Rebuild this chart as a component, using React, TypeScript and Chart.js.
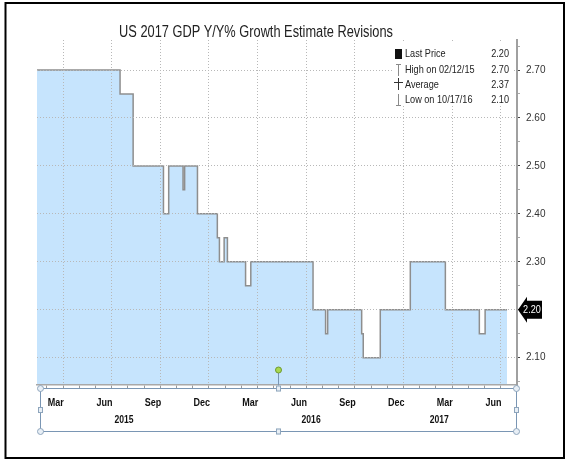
import React, { useEffect, useRef } from 'react';
import { Chart, registerables } from 'chart.js';

Chart.register(...registerables);

// ---- data ----
const titleText = 'US 2017 GDP Y/Y% Growth Estimate Revisions';
const changeDates = [
  '2015-02-12', '2015-07-17', '2015-08-11', '2015-10-07', '2015-10-17',
  '2015-11-13', '2015-11-16', '2015-12-10', '2016-01-17', '2016-01-21',
  '2016-01-30', '2016-02-05', '2016-03-09', '2016-03-19', '2016-07-14',
  '2016-08-07', '2016-08-11', '2016-10-14', '2016-10-17', '2016-11-18',
  '2017-01-14', '2017-03-19', '2017-05-22', '2017-06-02', '2017-07-13',
];
const changeValues = [
  2.70, 2.65, 2.50, 2.40, 2.50,
  2.45, 2.50, 2.40, 2.35, 2.30,
  2.35, 2.30, 2.25, 2.30, 2.20,
  2.15, 2.20, 2.15, 2.10, 2.20,
  2.30, 2.20, 2.15, 2.20, 2.20,
];
const axisStartDate = '2015-02-12';
const axisEndDate = '2017-08-01';
const yMin = 2.043;
const yMax = 2.7626;
const yTickValues = [2.05, 2.1, 2.15, 2.2, 2.25, 2.3, 2.35, 2.4, 2.45, 2.5, 2.55, 2.6, 2.65, 2.7, 2.75];
const monthTickLabels = ['Mar', 'Jun', 'Sep', 'Dec'];
const yearLabels = ['2015', '2016', '2017'];
const yearLabelMonth = [6.76, 18.3, 26.2];
const legendLabels = ['Last Price', 'High on 02/12/15', 'Average', 'Low on 10/17/16'];
const legendValues = ['2.20', '2.70', '2.37', '2.10'];
const lastPrice = 2.2;

const toM = (s: string) => {
  const [y, mo, d] = s.split('-').map(Number);
  const dim = new Date(y, mo, 0).getDate();
  return (y - 2015) * 12 + (mo - 1) + (d - 1) / dim;
};
const isMajor = (v: number) => Math.abs(v * 10 - Math.round(v * 10)) < 1e-6;

const FONT = '"Liberation Sans", Arial, sans-serif';

const drawText = (
  ctx: CanvasRenderingContext2D,
  text: string,
  x: number,
  y: number,
  align: CanvasTextAlign,
  font: string,
  sx: number,
) => {
  ctx.save();
  ctx.translate(x, y);
  ctx.scale(sx, 1);
  ctx.font = font;
  ctx.textAlign = align;
  ctx.textBaseline = 'middle';
  ctx.fillText(text, 0, 0);
  ctx.restore();
};

const overlayPlugin = {
  id: 'overlay',
  afterDraw(chart: any) {
    const ctx = chart.ctx as CanvasRenderingContext2D;
    const xs = chart.scales.x;
    const ys = chart.scales.y;
    const area = chart.chartArea;
    ctx.save();

    // legend box
    ctx.fillStyle = '#ffffff';
    ctx.fillRect(393, 41, 121, 65);
    const rowsY = [54, 69.5, 84.5, 100];
    ctx.fillStyle = '#111';
    ctx.fillRect(395, 49, 7, 10);
    ctx.strokeStyle = '#8a8a8a';
    ctx.lineWidth = 1;
    ctx.beginPath();
    ctx.moveTo(398.5, 64); ctx.lineTo(398.5, 76);
    ctx.moveTo(396, 64.5); ctx.lineTo(401, 64.5);
    ctx.moveTo(398.5, 94); ctx.lineTo(398.5, 106);
    ctx.moveTo(396, 105.5); ctx.lineTo(401, 105.5);
    ctx.stroke();
    ctx.strokeStyle = '#333';
    ctx.beginPath();
    ctx.moveTo(394, 82.5); ctx.lineTo(403, 82.5);
    ctx.moveTo(398.5, 78); ctx.lineTo(398.5, 90);
    ctx.stroke();
    ctx.fillStyle = '#222';
    legendLabels.forEach((t, i) => {
      drawText(ctx, t, 405, rowsY[i], 'left', `11px ${FONT}`, 0.83);
      drawText(ctx, legendValues[i], 509, rowsY[i], 'right', `11px ${FONT}`, 0.83);
    });

    // title
    ctx.fillStyle = '#222';
    drawText(ctx, titleText, 256, 33, 'center', `16px ${FONT}`, 0.8);

    // x labels
    ctx.fillStyle = '#111';
    let q = 0;
    for (let k = 2; k <= 29; k += 3) {
      drawText(ctx, monthTickLabels[q % 4], xs.getPixelForValue(k + 0.55), 403, 'center', `bold 11px ${FONT}`, 0.82);
      q++;
    }
    yearLabels.forEach((t, i) => {
      drawText(ctx, t, xs.getPixelForValue(yearLabelMonth[i]), 420, 'center', `bold 11px ${FONT}`, 0.78);
    });

    // selection box
    const bx1 = 40, bx2 = 516, by1 = 388, by2 = 431;
    const mx = (bx1 + bx2) / 2, my = (by1 + by2) / 2;
    ctx.strokeStyle = '#7a96b4';
    ctx.lineWidth = 1;
    ctx.strokeRect(bx1 + 0.5, by1 + 0.5, bx2 - bx1, by2 - by1);
    ctx.beginPath();
    ctx.moveTo(mx + 0.5, 373); ctx.lineTo(mx + 0.5, by1);
    ctx.stroke();
    ctx.fillStyle = '#a8d850';
    ctx.strokeStyle = '#6f9a30';
    ctx.beginPath();
    ctx.arc(mx + 0.5, 370, 3, 0, Math.PI * 2);
    ctx.fill(); ctx.stroke();
    ctx.fillStyle = '#e8eff6';
    ctx.strokeStyle = '#8ea5bc';
    [[bx1, by1], [bx2, by1], [bx1, by2], [bx2, by2]].forEach(([cx, cy]) => {
      ctx.beginPath();
      ctx.arc(cx + 0.5, cy + 0.5, 3, 0, Math.PI * 2);
      ctx.fill(); ctx.stroke();
    });
    [[mx, by1], [mx, by2], [bx1, my], [bx2, my]].forEach(([cx, cy]) => {
      ctx.fillRect(cx - 2, cy - 2.5, 5, 6);
      ctx.strokeRect(cx - 2 + 0.5, cy - 2.5 + 0.5, 4, 5);
    });

    // last price tag
    const ty = ys.getPixelForValue(lastPrice);
    const tx = area.right + 1;
    ctx.fillStyle = '#000';
    ctx.beginPath();
    ctx.moveTo(tx, ty);
    ctx.lineTo(tx + 9, ty - 13);
    ctx.lineTo(tx + 9, ty - 9);
    ctx.lineTo(tx + 24, ty - 9);
    ctx.lineTo(tx + 24, ty + 9);
    ctx.lineTo(tx + 9, ty + 9);
    ctx.lineTo(tx + 9, ty + 13);
    ctx.closePath();
    ctx.fill();
    ctx.fillStyle = '#fff';
    drawText(ctx, lastPrice.toFixed(2), tx + 14, ty + 0.5, 'center', `11px ${FONT}`, 0.83);

    // outer frame
    ctx.strokeStyle = '#000';
    ctx.lineWidth = 2;
    ctx.strokeRect(5.5, 3, 558.5, 455);
    ctx.restore();
  },
};

export default function App() {
  const ref = useRef<HTMLCanvasElement | null>(null);
  useEffect(() => {
    document.body.style.margin = '0';
    const points = changeDates.map((d, i) => ({ x: toM(d), y: changeValues[i] }));
    const monthTicks: number[] = [];
    for (let k = 2; k <= 30; k++) monthTicks.push(k);
    const chart = new Chart(ref.current as HTMLCanvasElement, {
      type: 'line',
      data: {
        datasets: [
          {
            data: points,
            stepped: true,
            borderColor: '#8e8e8e',
            borderWidth: 1.5,
            backgroundColor: 'rgb(198,228,253)',
            fill: 'start',
            pointRadius: 0,
          } as any,
        ],
      },
      options: {
        responsive: false,
        animation: false,
        layout: { padding: { left: 37, top: 40, right: 0, bottom: 0 } },
        plugins: { legend: { display: false }, title: { display: false }, tooltip: { enabled: false } },
        scales: {
          x: {
            type: 'linear',
            min: toM(axisStartDate),
            max: toM(axisEndDate),
            afterBuildTicks: (s: any) => { s.ticks = monthTicks.map((v) => ({ value: v })); },
            afterFit: (s: any) => { s.height = 76; },
            ticks: { display: false },
            grid: {
              z: 1,
              color: (c: any) => (c.tick && c.tick.value % 3 === 0 ? '#b8b8b8' : 'rgba(0,0,0,0)'),
              lineWidth: 1,
              drawTicks: true,
              tickLength: 3,
              tickColor: '#9a9a9a',
            },
            border: { display: true, z: 2, color: '#a8a8a8', width: 1.5, dash: [1, 2] },
          },
          y: {
            type: 'linear',
            position: 'right',
            min: yMin,
            max: yMax,
            afterBuildTicks: (s: any) => { s.ticks = yTickValues.map((v) => ({ value: v })); },
            afterFit: (s: any) => { s.width = 51; },
            ticks: {
              autoSkip: false,
              padding: 6,
              color: '#333',
              font: { family: FONT, size: 10 },
              callback: (v: any) => {
                const n = Number(v);
                if (!isMajor(n) || n > 2.71 || n < 2.09 || Math.abs(n - lastPrice) < 1e-6) return '';
                return n.toFixed(2);
              },
            },
            grid: {
              z: 1,
              color: (c: any) => (c.tick && isMajor(c.tick.value) && c.tick.value < 2.71 ? '#b8b8b8' : 'rgba(0,0,0,0)'),
              lineWidth: 1,
              drawTicks: true,
              tickLength: 3,
              tickColor: (c: any) => (c.tick && isMajor(c.tick.value) ? '#444' : '#aaa'),
            },
            border: { display: true, z: 2, color: '#a0a0a0', width: 2, dash: [1, 2] },
          },
        },
      },
      plugins: [overlayPlugin],
    });
    return () => chart.destroy();
  }, []);
  return <canvas ref={ref} width={568} height={461} style={{ display: 'block' }} />;
}
